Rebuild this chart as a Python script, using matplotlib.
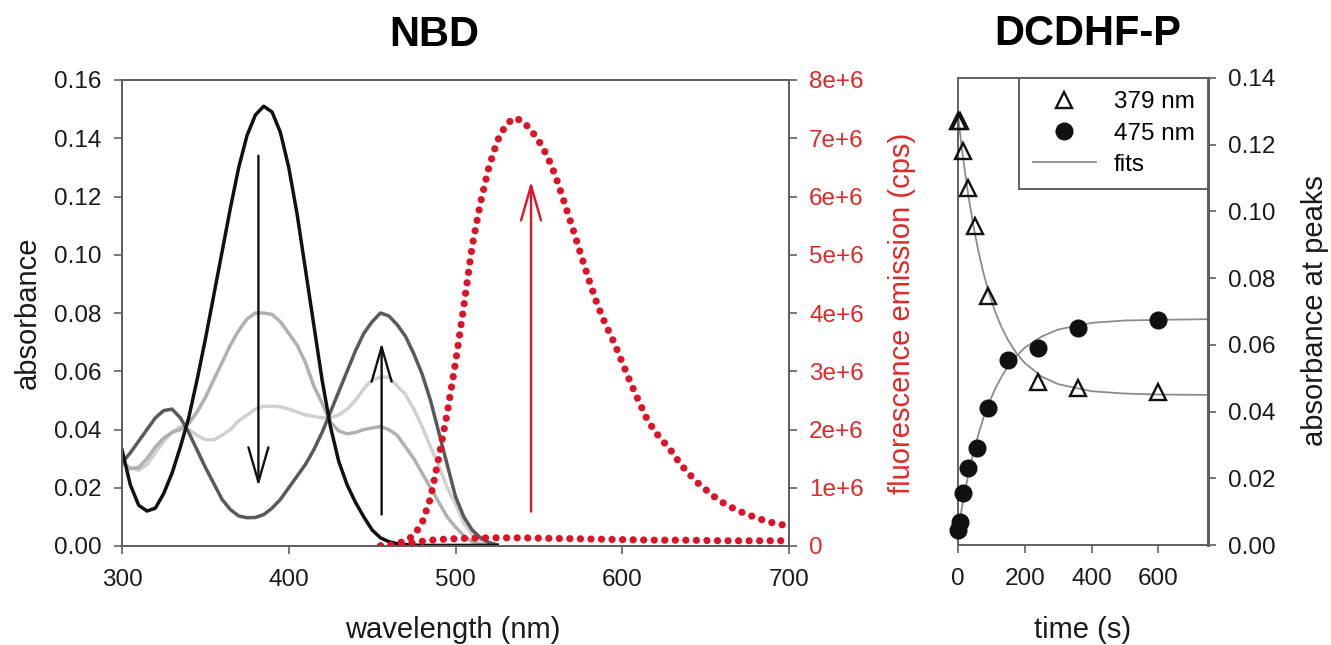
import numpy as np
import matplotlib
matplotlib.use("Agg")
import matplotlib.pyplot as plt
from matplotlib.ticker import FuncFormatter, MultipleLocator
from matplotlib.lines import Line2D

plt.rcParams['font.family'] = ['Liberation Sans', 'DejaVu Sans']

# ---------------- data: NBD absorbance spectra ----------------
wavelength = [300, 305, 310, 315, 320, 325, 330, 335, 340, 345, 350, 355, 360, 365, 370,
              375, 380, 385, 390, 395, 400, 405, 410, 415, 420, 425, 430, 435, 440, 445,
              450, 455, 460, 465, 470, 475, 480, 485, 490, 495, 500, 505, 510, 515, 520, 525]
abs_t0 = [0.033, 0.021, 0.014, 0.012, 0.013, 0.018, 0.025, 0.034, 0.044, 0.057, 0.071, 0.086,
          0.101, 0.116, 0.130, 0.141, 0.148, 0.151, 0.149, 0.142, 0.130, 0.114, 0.095, 0.076,
          0.057, 0.041, 0.029, 0.021, 0.015, 0.010, 0.0055, 0.0028, 0.0015, 0.0008, 0.0005,
          0.0003, 0.0002, 0.0002, 0.0002, 0.0002, 0.0002, 0.0002, 0.0002, 0.0002, 0.0002, 0.0002]
abs_t1 = [0.0286, 0.0265, 0.027, 0.030, 0.034, 0.037, 0.039, 0.040, 0.042, 0.046, 0.051, 0.057,
          0.063, 0.069, 0.074, 0.078, 0.080, 0.080, 0.0795, 0.077, 0.073, 0.069, 0.063, 0.055,
          0.049, 0.0425, 0.0395, 0.0385, 0.039, 0.040, 0.0405, 0.041, 0.040, 0.038, 0.034,
          0.030, 0.025, 0.020, 0.015, 0.010, 0.0065, 0.0035, 0.0015, 0.0005, 0.0002, 0.0001]
abs_t2 = [0.0286, 0.027, 0.026, 0.028, 0.032, 0.036, 0.039, 0.041, 0.040, 0.038, 0.0365, 0.0365,
          0.038, 0.040, 0.043, 0.045, 0.047, 0.048, 0.048, 0.0478, 0.047, 0.046, 0.045, 0.0445,
          0.044, 0.044, 0.045, 0.047, 0.050, 0.054, 0.057, 0.058, 0.058, 0.055, 0.052,
          0.047, 0.041, 0.034, 0.0275, 0.020, 0.0145, 0.0078, 0.0040, 0.0018, 0.0005, 0.0002]
abs_t3 = [0.0286, 0.032, 0.036, 0.040, 0.044, 0.0465, 0.047, 0.044, 0.039, 0.033, 0.027, 0.0215,
          0.016, 0.0125, 0.0103, 0.0097, 0.0098, 0.0108, 0.013, 0.016, 0.020, 0.024, 0.028, 0.033,
          0.039, 0.046, 0.053, 0.060, 0.067, 0.073, 0.077, 0.080, 0.079, 0.076, 0.072,
          0.066, 0.059, 0.050, 0.039, 0.028, 0.017, 0.010, 0.0055, 0.0028, 0.0012, 0.0004]

# ---------------- data: fluorescence emission (units of 1e6 cps) ----------------
em_wavelength = [455, 460, 465, 470, 475, 480, 485, 490, 495, 500,
                 505, 510, 515, 520, 525, 530, 535, 540, 545, 550,
                 555, 560, 565, 570, 575, 580, 585, 590, 595, 600,
                 605, 610, 615, 620, 625, 630, 635, 640, 645, 650,
                 655, 660, 665, 670, 675, 680, 685, 690, 695, 700]
emission_final = [0.0, 0.01, 0.04, 0.09, 0.18, 0.40, 0.82, 1.52, 2.28, 3.15,
                  4.12, 5.15, 5.90, 6.50, 6.95, 7.22, 7.35, 7.30, 7.15, 6.95,
                  6.70, 6.35, 5.92, 5.48, 5.02, 4.57, 4.15, 3.80, 3.50, 3.15,
                  2.80, 2.48, 2.17, 1.95, 1.78, 1.61, 1.40, 1.24, 1.09, 0.97,
                  0.85, 0.75, 0.67, 0.60, 0.54, 0.49, 0.44, 0.40, 0.37, 0.34]
base_wavelength = [455, 465, 475, 485, 495, 505, 520, 540, 560, 580, 600, 620, 640, 660, 680, 700]
emission_initial = [0.0, 0.02, 0.06, 0.10, 0.12, 0.13, 0.14, 0.14, 0.13, 0.12, 0.11, 0.10,
                    0.10, 0.09, 0.09, 0.09]

# ---------------- data: DCDHF-P kinetics ----------------
t_379 = [0, 5, 15, 30, 50, 90, 240, 360, 600]
a_379 = [0.127, 0.127, 0.118, 0.107, 0.0955, 0.0745, 0.049, 0.047, 0.046]
t_475 = [0, 5, 15, 30, 55, 90, 150, 240, 360, 600]
a_475 = [0.0045, 0.007, 0.0155, 0.023, 0.029, 0.041, 0.0555, 0.059, 0.065, 0.0675]
t_fit = [0, 10, 20, 30, 45, 60, 75, 90, 110, 130, 150, 175, 200, 250, 300, 400, 500, 600, 750]
fit_379 = [0.128, 0.1195, 0.1118, 0.1049, 0.0959, 0.0882, 0.0817, 0.0762, 0.0701, 0.0652,
           0.0613, 0.0574, 0.0545, 0.0505, 0.0482, 0.0461, 0.0454, 0.0451, 0.0450]
fit_475 = [0.0047, 0.0107, 0.0161, 0.0210, 0.0275, 0.0331, 0.0380, 0.0421, 0.0467, 0.0505,
           0.0537, 0.0567, 0.0592, 0.0625, 0.0646, 0.0666, 0.0673, 0.0675, 0.0677]

# annotation arrows: (x, y_tail, y_tip)
arrow_down = (381.8, 0.134, 0.0205)
arrow_up = (455.7, 0.0108, 0.0698)
arrow_red = (545.3, 0.59e6, 6.26e6)

# ---------------- figure ----------------
W, H = 1331, 645
fig = plt.figure(figsize=(W / 100, H / 100), dpi=100)

def fx(px):
    return px / W

def fy(py):
    return 1 - py / H

spine_col = '#606060'
red = '#dc1428'
red_txt = '#e02828'
tick_fs = 17.5
lab_fs = 21
clw = 2.5

# left panel
ax = fig.add_axes([fx(122), fy(546), fx(789) - fx(122), fy(80) - fy(546)])
ax.plot(wavelength, abs_t2, color='#d0d0d0', lw=clw, zorder=2, solid_joinstyle='round')
ax.plot(wavelength, abs_t1, color='#b0b0b0', lw=clw, zorder=3, solid_joinstyle='round')
ax.plot(wavelength, abs_t3, color='#5a5a5a', lw=clw, zorder=4, solid_joinstyle='round')
ax.plot(wavelength, abs_t0, color='#111111', lw=clw, zorder=5, solid_joinstyle='round')
ax.set_xlim(300, 700)
ax.set_ylim(0, 0.16)
ax.xaxis.set_major_locator(MultipleLocator(100))
ax.yaxis.set_major_locator(MultipleLocator(0.02))
ax.yaxis.set_major_formatter(FuncFormatter(lambda v, p: f'{v:.2f}'))

ak = dict(arrowstyle='->,head_length=1.25,head_width=0.36', lw=1.7, color='#111111',
          shrinkA=0, shrinkB=0, mutation_scale=20)
ax.annotate('', xy=(arrow_down[0], arrow_down[2]), xytext=(arrow_down[0], arrow_down[1]),
            arrowprops=ak, zorder=6)
ax.annotate('', xy=(arrow_up[0], arrow_up[2]), xytext=(arrow_up[0], arrow_up[1]),
            arrowprops=ak, zorder=6)

ax2 = ax.twinx()
ax2.plot(em_wavelength, np.array(emission_final) * 1e6, color=red, lw=5.2,
         linestyle=(0, (0.01, 1.45)), dash_capstyle='round', zorder=3)
ax2.plot(base_wavelength, np.array(emission_initial) * 1e6, color=red, lw=5.2,
         linestyle=(0, (0.01, 1.45)), dash_capstyle='round', zorder=3)
ax2.set_ylim(0, 8e6)
ax2.yaxis.set_major_locator(MultipleLocator(1e6))
ax2.yaxis.set_major_formatter(FuncFormatter(lambda v, p: '0' if v == 0 else f'{v / 1e6:.0f}e+6'))
akr = dict(ak)
akr['color'] = red
ax2.annotate('', xy=(arrow_red[0], arrow_red[2]), xytext=(arrow_red[0], arrow_red[1]),
             arrowprops=akr, zorder=6)

for a in (ax, ax2):
    for s in a.spines.values():
        s.set_color(spine_col)
        s.set_linewidth(1.4)
ax.tick_params(axis='both', direction='out', length=5.5, width=1.2, color=spine_col,
               labelsize=tick_fs, labelcolor='#1a1a1a')
ax.tick_params(axis='y', pad=9)
ax.tick_params(axis='x', pad=11)
ax2.tick_params(axis='y', direction='out', length=5.5, width=1.2, color=spine_col,
                labelsize=tick_fs, labelcolor=red_txt, pad=9)

# right panel
bx = fig.add_axes([fx(958.3), fy(545), fx(1208.3) - fx(958.3), fy(78) - fy(545)])
bx.plot(t_fit, fit_379, color='#8c8c8c', lw=1.3, zorder=2)
bx.plot(t_fit, fit_475, color='#8c8c8c', lw=1.3, zorder=2)
bx.plot(t_379, a_379, linestyle='none', marker='^', ms=12, mfc='none', mec='#111111',
        mew=1.7, clip_on=False, zorder=3)
bx.plot(t_475, a_475, linestyle='none', marker='o', ms=12, mfc='#111111', mec='#111111',
        clip_on=False, zorder=3)
bx.set_xlim(0, 750)
bx.set_ylim(0, 0.14)
bx.xaxis.set_major_locator(MultipleLocator(200))
bx.yaxis.set_major_locator(MultipleLocator(0.02))
bx.yaxis.set_major_formatter(FuncFormatter(lambda v, p: f'{v:.2f}'))
bx.yaxis.tick_right()
for s in bx.spines.values():
    s.set_color(spine_col)
    s.set_linewidth(1.4)
bx.spines['right'].set_linewidth(2.2)
bx.tick_params(axis='both', direction='out', length=5.5, width=1.2, color=spine_col,
               labelsize=tick_fs, labelcolor='#1a1a1a')
bx.tick_params(axis='y', pad=9)
bx.tick_params(axis='x', pad=11)

handles = [Line2D([], [], linestyle='none', marker='^', ms=12, mfc='none', mec='#111111', mew=1.7),
           Line2D([], [], linestyle='none', marker='o', ms=12, mfc='#111111', mec='#111111'),
           Line2D([], [], color='#8c8c8c', lw=1.3)]
leg = bx.legend(handles, ['379 nm', '475 nm', 'fits'], loc='upper right',
                bbox_to_anchor=(1.0, 1.0), borderaxespad=0, fontsize=tick_fs, fancybox=False,
                framealpha=1, edgecolor=spine_col, handlelength=2.6, handletextpad=0.75,
                labelspacing=0.38, borderpad=0.55)
leg.get_frame().set_linewidth(1.4)

# titles and labels
fig.text(fx(434), fy(35), 'NBD', ha='center', va='center', fontsize=30, fontweight='bold')
fig.text(fx(1088), fy(34), 'DCDHF-P', ha='center', va='center', fontsize=30, fontweight='bold')
fig.text(fx(28), fy(313), 'absorbance', ha='center', va='center', rotation=90, fontsize=lab_fs,
         color='#1a1a1a')
fig.text(fx(902), fy(313), 'fluorescence emission (cps)', ha='center', va='center', rotation=90,
         fontsize=lab_fs, color=red_txt)
fig.text(fx(453), fy(630), 'wavelength (nm)', ha='center', va='center', fontsize=lab_fs,
         color='#1a1a1a')
fig.text(fx(1315), fy(311), 'absorbance at peaks', ha='center', va='center', rotation=90,
         fontsize=lab_fs, color='#1a1a1a')
fig.text(fx(1083), fy(630), 'time (s)', ha='center', va='center', fontsize=lab_fs,
         color='#1a1a1a')

fig.savefig('out.png', dpi=100)
